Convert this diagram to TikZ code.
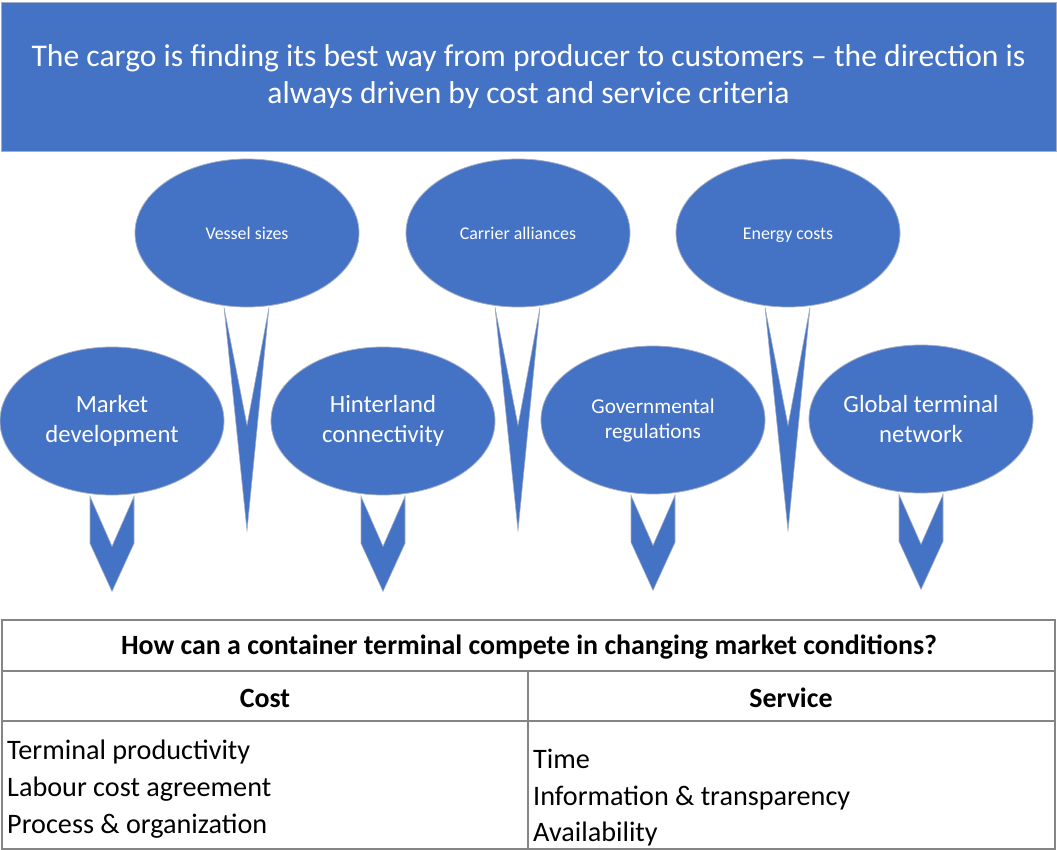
\documentclass[tikz,border=0pt]{standalone}
\usepackage{fontspec}
\setmainfont{Carlito}
\usetikzlibrary{shapes.geometric}
\definecolor{blu}{HTML}{4472C4}
\definecolor{edgec}{HTML}{A3ADC6}
\definecolor{tline}{HTML}{858585}
\begin{document}
\begin{tikzpicture}[x=1pt,y=-1pt,
  bubble/.style={ellipse,fill=blu,draw=edgec,line width=0.8pt,minimum width=224pt,minimum height=148pt,inner sep=0pt,text=white,align=center},
  smallbub/.style={bubble,font=\fontsize{17.9}{21}\selectfont,text height=18pt,text depth=4pt},
  bigbub/.style={bubble,font=\fontsize{24.7}{30}\selectfont},
  arrfill/.style={fill=blu,draw=edgec,line width=0.6pt},
  longarr/.pic={\path[arrfill] (-23,0) -- (0,118) -- (22,0) -- (0,223) -- cycle;},
  shortarr/.pic={\path[arrfill] (-22,1) -- (0,51) -- (22,1) -- (22,48) -- (0,96) -- (-22,48) -- cycle;},
  tcell/.style={inner sep=0pt,anchor=base west,font=\fontsize{28.2}{37}\selectfont},
  thead/.style={inner sep=0pt,font=\bfseries\fontsize{27.9}{32}\selectfont}
]
\useasboundingbox (0,0) rectangle (1057,850);
% header
\node[fill=blu,draw=edgec,line width=0.8pt,minimum width=1055pt,minimum height=149pt,inner sep=0pt,
  text=white,align=center,font=\fontsize{31.6}{37}\selectfont] (title) at (528.5,77)
  {The cargo is finding its best way from producer to customers – the direction is\\always driven by cost and service criteria};
% top bubbles
\node[smallbub] (vs) at (247,233) {Vessel sizes};
\node[smallbub] (ca) at (518,233) {Carrier alliances};
\node[smallbub] (ec) at (788,233) {Energy costs};
\pic at (vs.south) {longarr};
\pic at (ca.south) {longarr};
\pic at (ec.south) {longarr};
% bottom bubbles
\node[bigbub] (md) at (112,421) {Market\\development};
\node[bigbub] (hc) at (383,421) {Hinterland\\connectivity};
\node[bubble,font=\fontsize{21.2}{25}\selectfont] (gr) at (653,420) {Governmental\\regulations};
\node[bigbub] (gt) at (921,419) {Global terminal\\network};
\pic at (md.south) {shortarr};
\pic at (hc.south) {shortarr};
\pic at (gr.south) {shortarr};
\pic at (gt.south) {shortarr};
% table
\draw[tline,line width=1.3pt] (2,620) rectangle (1055,849);
\draw[tline,line width=1.3pt] (2,671) -- (1055,671);
\draw[tline,line width=1.3pt] (2,721) -- (1055,721);
\draw[tline,line width=1.3pt] (528,671) -- (528,849);
\node[thead] (q) at (529,647) {How can a container terminal compete in changing market conditions?};
\node[thead] (cost) at (265,698) {Cost};
\node[thead] (serv) at (791,698) {Service};
\node[tcell] (c1) at (7,759) {Terminal productivity};
\node[tcell] (c2) at (7,796) {Labour cost agreement};
\node[tcell] (c3) at (7,833) {Process \& organization};
\node[tcell] (s1) at (533,768) {Time};
\node[tcell] (s2) at (533,805) {Information \& transparency};
\node[tcell] (s3) at (533,841) {Availability};
\end{tikzpicture}
\end{document}
